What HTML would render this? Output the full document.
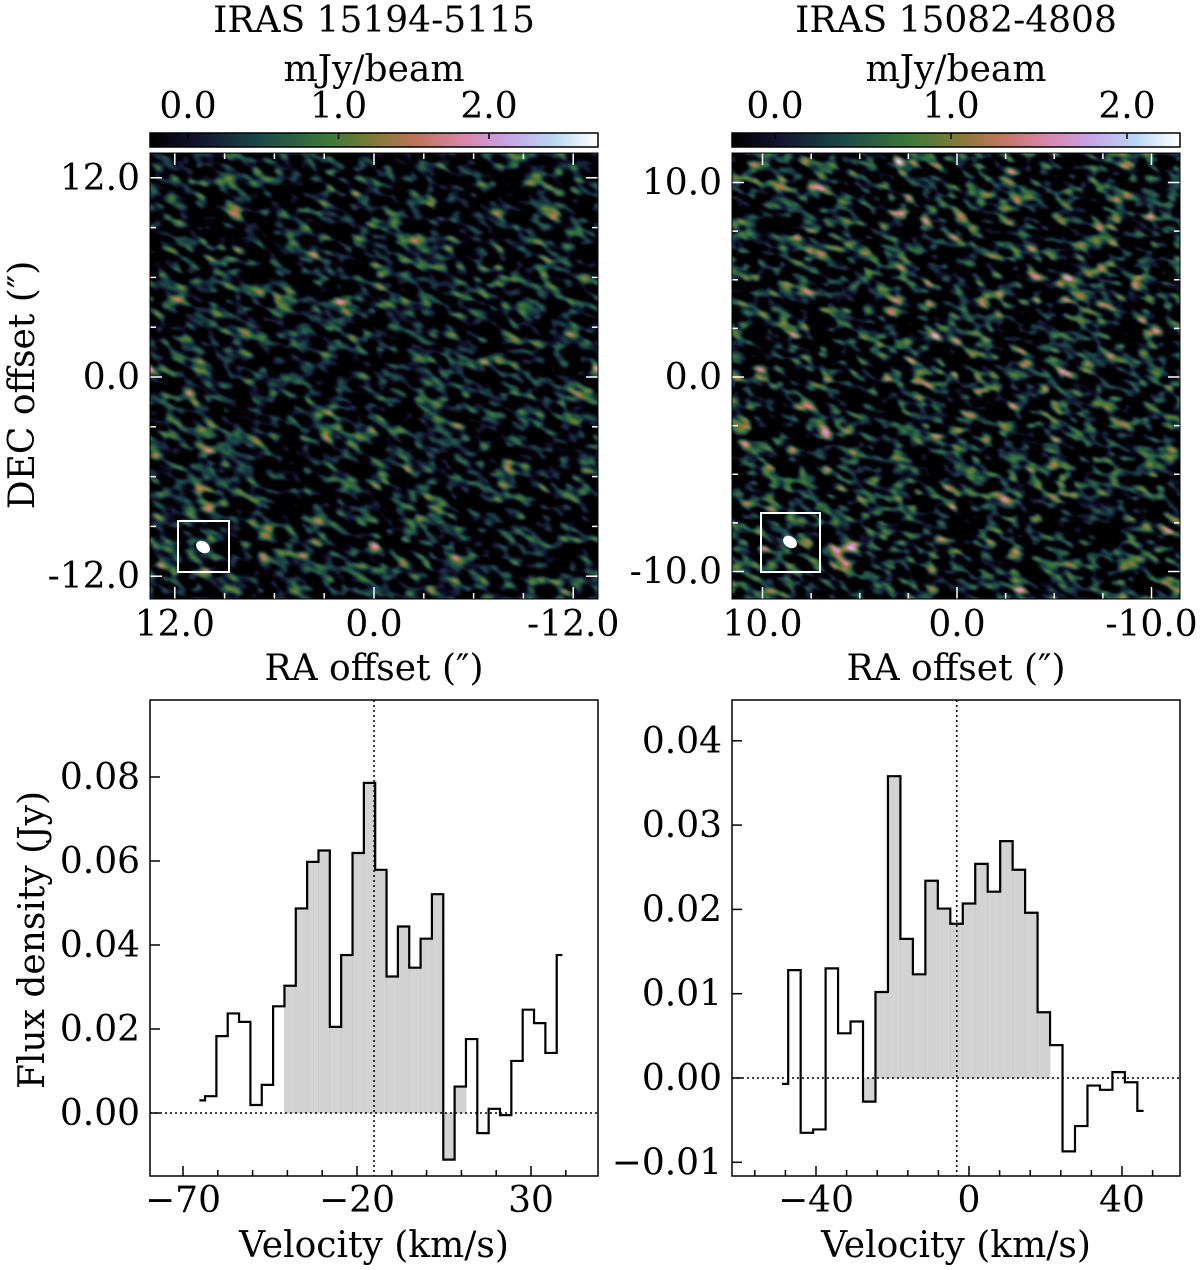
<!DOCTYPE html>
<html><head><meta charset="utf-8">
<style>
html,body{margin:0;padding:0;background:#fff;}
#wrap{position:relative;width:1200px;height:1270px;overflow:hidden;}
canvas{position:absolute;}
svg{position:absolute;left:0;top:0;}
text{font-family:"DejaVu Serif","Liberation Serif",serif;fill:#000;}
</style></head>
<body>
<div id="wrap">
<canvas id="mapL" width="448" height="446" style="left:150px;top:153px"></canvas>
<canvas id="mapR" width="448" height="446" style="left:732px;top:153px"></canvas>
<svg id="svg" width="1200" height="1270" xmlns="http://www.w3.org/2000/svg">
<defs>
<linearGradient id="cmap" x1="0" x2="1" y1="0" y2="0">
<stop offset="0" stop-color="#000000"/>
<stop offset="0.1" stop-color="#14122e"/>
<stop offset="0.25" stop-color="#1b4a4a"/>
<stop offset="0.4" stop-color="#3d7a3a"/>
<stop offset="0.5" stop-color="#7f7b36"/>
<stop offset="0.6" stop-color="#c1735e"/>
<stop offset="0.7" stop-color="#d985a8"/>
<stop offset="0.8" stop-color="#c6a3e6"/>
<stop offset="0.9" stop-color="#b9d6f2"/>
<stop offset="1" stop-color="#ffffff"/>
</linearGradient>
</defs>
<g><text x="374" y="32" font-size="36" text-anchor="middle">IRAS 15194-5115</text></g>
<g><text x="956" y="32" font-size="36" text-anchor="middle">IRAS 15082-4808</text></g>
<text x="374" y="81" font-size="36" text-anchor="middle">mJy/beam</text>
<text x="956" y="81" font-size="36" text-anchor="middle">mJy/beam</text>
<rect x="150" y="133" width="448" height="14" fill="url(#cmap)" stroke="#000" stroke-width="1.5"/>
<rect x="732" y="133" width="448" height="14" fill="url(#cmap)" stroke="#000" stroke-width="1.5"/>
<g id="cbticks"></g>
<g id="imgaxes"></g>
<g id="specL"></g>
<g id="specR"></g>
<text transform="translate(34,385) rotate(-90)" font-size="36" text-anchor="middle">DEC offset (″)</text>
<text x="374" y="680" font-size="36" text-anchor="middle">RA offset (″)</text>
<text x="956" y="680" font-size="36" text-anchor="middle">RA offset (″)</text>
<text transform="translate(44,940) rotate(-90)" font-size="36" text-anchor="middle">Flux density (Jy)</text>
<text x="374" y="1257" font-size="36" text-anchor="middle">Velocity (km/s)</text>
<text x="956" y="1257" font-size="36" text-anchor="middle">Velocity (km/s)</text>
</svg>
</div>
<script>
// ---- spectrum data ----
const velStartL = -65.3;
const velStepL = 3.26;
const fluxL = [0.003,0.004,0.0183,0.0237,0.0217,0.0019,0.0067,0.0254,0.0303,0.0487,0.0598,0.0625,0.0205,0.0376,0.0619,0.0786,0.0579,0.0325,0.0444,0.0346,0.0415,0.0521,-0.0111,0.0063,0.0176,-0.0048,0.001,-0.0005,0.0124,0.0246,0.0214,0.0143,0.0376];
const fillRangeL = [8,23];
const vSysL = -15.1;
const xTicksL = [-70,-20,30];
const yTicksL = [0,0.02,0.04,0.06,0.08];
const yTickLabelsL = ["0.00","0.02","0.04","0.06","0.08"];

const velStartR = -48.9;
const velStepR = 3.26;
const fluxR = [-0.0007,0.0128,-0.0065,-0.0061,0.013,0.0053,0.0067,-0.0028,0.0102,0.0358,0.0165,0.0123,0.0234,0.0201,0.0183,0.0207,0.0254,0.0221,0.0281,0.0247,0.0196,0.0078,0.0039,-0.0087,-0.0057,-0.0009,-0.0014,0.0007,-0.0005,-0.0039];
const fillRangeR = [7,21];
const vSysR = -3.2;
const xTicksR = [-40,0,40];
const yTicksR = [-0.01,0,0.01,0.02,0.03,0.04];
const yTickLabelsR = ["\u22120.01","0.00","0.01","0.02","0.03","0.04"];

const cbTicks = [0,1,2];
const cbLabels = ["0.0","1.0","2.0"];

const NS="http://www.w3.org/2000/svg";
function mk(parent,tag,attrs,txt){const e=document.createElementNS(NS,tag);for(const k in attrs)e.setAttribute(k,attrs[k]);if(txt!==undefined)e.textContent=txt;parent.appendChild(e);return e;}

// colorbar ticks
(function(){
  const g=document.getElementById('cbticks');
  [[150,188,150.5],[732,775,176]].forEach(([x0,z,s])=>{
    cbTicks.forEach((t,i)=>{
      const x=z+t*s;
      mk(g,'line',{x1:x,x2:x,y1:133,y2:139,stroke:'#000','stroke-width':1.5});
      const tx=mk(g,'text',{x:x,y:118,'font-size':36,'text-anchor':'middle'},cbLabels[i]);
      
      
    });
  });
})();

// image axes
(function(){
  const g=document.getElementById('imgaxes');
  const cfgs=[
    {x0:150,y0:153,w:448,h:446,cx:374,cy:377,s:16.6,maj:12,min:3,lab:["12.0","0.0","-12.0"],box:[178,521,51,51],beam:[203,547]},
    {x0:732,y0:153,w:448,h:446,cx:957,cy:377,s:19.45,maj:10,min:2.5,lab:["10.0","0.0","-10.0"],box:[761,513,59,59],beam:[790,542]}
  ];
  cfgs.forEach(c=>{
    const n=Math.floor(15/c.min);
    for(let k=-n;k<=n;k++){
      const off=k*c.min;
      const major=Math.abs(Math.abs(off)%c.maj)<1e-6;
      const L=major?12:6;
      const x=c.cx-off*c.s, y=c.cy-off*c.s;
      if(x>c.x0+1&&x<c.x0+c.w-1){
        mk(g,'line',{x1:x,x2:x,y1:c.y0+c.h,y2:c.y0+c.h-L,stroke:'#fff','stroke-width':1.5});
        mk(g,'line',{x1:x,x2:x,y1:c.y0,y2:c.y0+L,stroke:'#fff','stroke-width':1.5});
      }
      if(y>c.y0+1&&y<c.y0+c.h-1){
        mk(g,'line',{x1:c.x0,x2:c.x0+L,y1:y,y2:y,stroke:'#fff','stroke-width':1.5});
        mk(g,'line',{x1:c.x0+c.w,x2:c.x0+c.w-L,y1:y,y2:y,stroke:'#fff','stroke-width':1.5});
      }
    }
    [-1,0,1].forEach((k,i)=>{
      const x=c.cx+k*c.maj*c.s;
      const t=mk(g,'text',{x:x,y:636,'font-size':36,'text-anchor':'middle'},c.lab[i]);
      
      
      const y=c.cy+k*c.maj*c.s;
      const t2=mk(g,'text',{x:c.x0-10,y:y+12,'font-size':36,'text-anchor':'end'},c.lab[i]);
      
      
    });
    const b=mk(g,'rect',{x:c.box[0],y:c.box[1],width:c.box[2],height:c.box[3],fill:'none',stroke:'#fff','stroke-width':2});
    
    
    const e=mk(g,'ellipse',{cx:c.beam[0],cy:c.beam[1],rx:7.5,ry:5.5,fill:'#fff',transform:`rotate(35 ${c.beam[0]} ${c.beam[1]})`});
    
    
    mk(g,'rect',{x:c.x0,y:c.y0,width:c.w,height:c.h,fill:'none',stroke:'#000','stroke-width':1});
  });
})();

// spectra
function drawSpec(gid,box,xf,yf,vStart,vStep,flux,fr,vsys,xt,xminStep,xminRange,yt,ylab){
  const g=document.getElementById(gid);
  const clipId=gid+'clip';
  const cp=mk(g,'clipPath',{id:clipId});
  mk(cp,'rect',{x:box[0],y:box[1],width:box[2]-box[0],height:box[3]-box[1]});
  const inner=mk(g,'g',{'clip-path':`url(#${clipId})`});
  const vel=flux.map((f,i)=>vStart+i*vStep);
  const edgeL=i=> i===0?xf(vel[0]):(xf(vel[i-1])+xf(vel[i]))/2;
  const edgeR=i=> i===flux.length-1?xf(vel[i]):(xf(vel[i])+xf(vel[i+1]))/2;
  for(let i=fr[0];i<=fr[1];i++){
    const y0=yf(0),y1=yf(flux[i]);
    const r=mk(inner,'rect',{x:edgeL(i),y:Math.min(y0,y1),width:edgeR(i)-edgeL(i),height:Math.abs(y1-y0),fill:'#d3d3d3',stroke:'#c8c8c8','stroke-width':0.6});
    
    
  }
  mk(inner,'line',{x1:box[0],x2:box[2],y1:yf(0),y2:yf(0),stroke:'#000','stroke-width':1.5,'stroke-dasharray':'2,3'});
  mk(inner,'line',{x1:xf(vsys),x2:xf(vsys),y1:box[1],y2:box[3],stroke:'#000','stroke-width':1.5,'stroke-dasharray':'2,3'});
  let d='';
  flux.forEach((f,i)=>{
    const y=yf(f);
    d+=(i===0?`M${edgeL(i)},${y}`:`L${edgeL(i)},${y}`)+` L${edgeR(i)},${y}`;
  });
  const p=mk(inner,'path',{d:d,fill:'none',stroke:'#000','stroke-width':2.2,'stroke-linejoin':'miter'});
  
  
  for(let v=xminRange[0];v<=xminRange[1]+1e-6;v+=xminStep){
    const x=xf(v); if(x<box[0]||x>box[2])continue;
    const maj=xt.some(t=>Math.abs(t-v)<1e-6);
    mk(g,'line',{x1:x,x2:x,y1:box[3],y2:box[3]-(maj?10:6),stroke:'#000','stroke-width':1.5});
  }
  xt.forEach(t=>{
    const lbl=t<0?'\u2212'+Math.abs(t):String(t);
    const tx=mk(g,'text',{x:xf(t),y:1212,'font-size':36,'text-anchor':'middle'},lbl);
    
    
  });
  yt.forEach((t,i)=>{
    const y=yf(t);
    mk(g,'line',{x1:box[0],x2:box[0]+10,y1:y,y2:y,stroke:'#000','stroke-width':1.5});
    const tx=mk(g,'text',{x:box[0]-10,y:y+12,'font-size':36,'text-anchor':'end'},ylab[i]);
    
    
  });
  const fr2=mk(g,'rect',{x:box[0],y:box[1],width:box[2]-box[0],height:box[3]-box[1],fill:'none',stroke:'#000','stroke-width':1.5});
  
  
}
const xL=v=>183+(v+70)*3.48, yL=f=>1113-f*4200;
const xR=v=>969+v*3.825, yR=f=>1078-f*8430;
drawSpec('specL',[150,700,598,1176],xL,yL,velStartL,velStepL,fluxL,fillRangeL,vSysL,xTicksL,10,[-80,40],yTicksL,yTickLabelsL);
drawSpec('specR',[732,700,1180,1176],xR,yR,velStartR,velStepR,fluxR,fillRangeR,vSysR,xTicksR,8,[-56,56],yTicksR,yTickLabelsR);

// ---- noise maps (image texture) ----
const cstops=[[0,[0,0,0]],[0.1,[20,18,46]],[0.25,[27,74,74]],[0.4,[61,122,58]],[0.5,[127,123,54]],[0.6,[193,115,94]],[0.7,[217,133,168]],[0.8,[198,163,230]],[0.9,[185,214,242]],[1,[255,255,255]]];
function cmap(t){t=Math.max(0,Math.min(1,t));for(let i=1;i<cstops.length;i++){if(t<=cstops[i][0]){const a=cstops[i-1],b=cstops[i];const u=(t-a[0])/(b[0]-a[0]);return a[1].map((c,k)=>c+(b[1][k]-c)*u);}}return [255,255,255];}
function rng(seed){let s=seed>>>0;return()=>{s=(s*1664525+1013904223)>>>0;return s/4294967296;};}
function makeMap(id,seed,sMaj,sMin,ang,vmin,vmax){
  const cv=document.getElementById(id),ctx=cv.getContext('2d');
  const W=224,H=223,R=rng(seed);
  const n=new Float32Array(W*H);for(let i=0;i<n.length;i++){n[i]=(R()+R()+R()-1.5);}
  const rad=6,ks=[];const ca=Math.cos(ang),sa=Math.sin(ang);
  for(let dy=-rad;dy<=rad;dy++)for(let dx=-rad;dx<=rad;dx++){const u=dx*ca+dy*sa,v=-dx*sa+dy*ca;const w=Math.exp(-0.5*(u*u/(sMaj*sMaj)+v*v/(sMin*sMin)));if(w>0.01)ks.push([dx,dy,w]);}
  const o=new Float32Array(W*H);let sum=0,sq=0;
  for(let y=0;y<H;y++)for(let x=0;x<W;x++){let a=0;for(const k of ks){let xx=x+k[0],yy=y+k[1];xx=(xx+W)%W;yy=(yy+H)%H;a+=n[yy*W+xx]*k[2];}o[y*W+x]=a;sum+=a;sq+=a*a;}
  const m=sum/o.length,sd=Math.sqrt(sq/o.length-m*m);
  const small=document.createElement('canvas');small.width=W;small.height=H;
  const sc=small.getContext('2d'),img=sc.createImageData(W,H);
  for(let i=0;i<o.length;i++){const z=(o[i]-m)/sd;const val=0.55*z-0.05;const c=cmap((val-vmin)/(vmax-vmin));img.data[i*4]=c[0];img.data[i*4+1]=c[1];img.data[i*4+2]=c[2];img.data[i*4+3]=255;}
  sc.putImageData(img,0,0);
  ctx.imageSmoothingEnabled=true;ctx.drawImage(small,0,0,448,446);
}
makeMap('mapL',12345,2.0,1.05,0.45,-0.25,2.73);
makeMap('mapR',67890,1.9,1.0,0.4,-0.25,2.3);
</script>
</body></html>
